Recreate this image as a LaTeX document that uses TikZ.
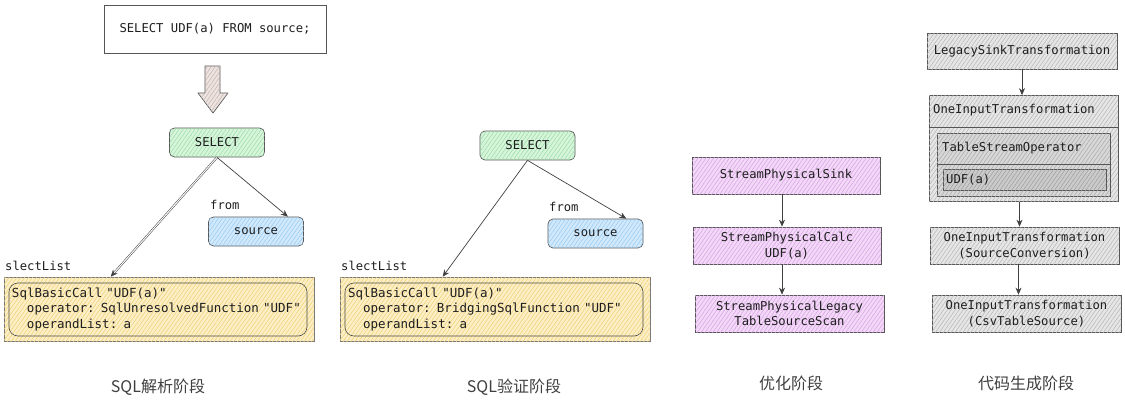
\documentclass[tikz,border=0pt]{standalone}
\usepackage{fontspec}
\setmonofont{DejaVu Sans Mono}[WordSpace={1,0,0}]
\newfontfamily\cjk{Noto Sans CJK SC}
\usetikzlibrary{patterns.meta,arrows.meta,calc}
\definecolor{ink}{HTML}{1E1E1E}
\definecolor{edge}{HTML}{555555}
\definecolor{gfill}{HTML}{D6F5DB}\definecolor{gline}{HTML}{9EDDA8}
\definecolor{bfill}{HTML}{D2E9FC}\definecolor{bline}{HTML}{98CCF3}
\definecolor{yfill}{HTML}{FCEFC6}\definecolor{yline}{HTML}{F2D27A}
\definecolor{pfill}{HTML}{F3D8F8}\definecolor{pline}{HTML}{D9A6E6}
\definecolor{afill}{HTML}{EDE4E1}\definecolor{aline}{HTML}{C6B5B0}
\definecolor{k1fill}{HTML}{E6E6E6}\definecolor{k1line}{HTML}{B8B8B8}
\definecolor{k2fill}{HTML}{D8D8D8}\definecolor{k2line}{HTML}{ABABAB}
\definecolor{k3fill}{HTML}{CBCBCB}\definecolor{k3line}{HTML}{A0A0A0}
\newcommand\myind{\hspace*{15pt}}
\tikzset{
  hatch/.style 2 args={fill=#1, postaction={pattern={Lines[angle=55,distance=3.2pt,line width=0.55pt]}, pattern color=#2}},
  mono/.style={font=\fontsize{12.2}{15.5}\selectfont\ttfamily, text=ink},
  cjklabel/.style={font=\cjk\fontsize{16}{18}\selectfont, text=ink!85},
  boxbase/.style={mono, draw=edge, line width=0.7pt, inner sep=0pt, align=center},
  greenbox/.style={boxbase, hatch={gfill}{gline}, rounded corners=5pt, minimum width=95pt, minimum height=29pt},
  bluebox/.style={boxbase, hatch={bfill}{bline}, rounded corners=5pt, minimum width=95pt, minimum height=29pt},
  yellowbox/.style={draw=edge!80, line width=0.6pt, hatch={yfill}{yline}, minimum width=310pt, minimum height=64pt, inner sep=0pt},
  innerbox/.style={font=\fontsize{12.5}{15.5}\selectfont\ttfamily, text=ink, draw=ink!80, line width=0.6pt, rounded corners=9pt, minimum width=298pt, minimum height=53pt, text width=292pt, inner xsep=3pt, inner ysep=0pt, align=left},
  purplebox/.style={boxbase, hatch={pfill}{pline}, minimum width=188pt, minimum height=37pt},
  graybox/.style={boxbase, hatch={k1fill}{k1line}, minimum width=189pt, minimum height=37pt},
  arr/.style={draw=ink!85, line width=0.7pt, -{Stealth[length=7pt,width=6pt]}},
  plain/.style={mono, inner sep=0pt},
}
\begin{document}
\begin{tikzpicture}[x=1pt,y=-1pt]
\useasboundingbox (0,0) rectangle (1125,402);

% ---------- panel 1 ----------
\node[boxbase, fill=white, minimum width=222pt, minimum height=48pt] (q) at (215,29) {SELECT UDF(a) FROM source;};
\draw[draw=edge, line width=0.7pt, hatch={afill}{aline}, line join=round]
  (205,66) -- (220,66) -- (220,93) -- (228,93) -- (213,113) -- (198,93) -- (205,93) -- cycle;
\node[greenbox] (s1) at (217,142.5) {SELECT};
\node[bluebox] (src1) at (256,231.5) {source};
\node[plain, anchor=west] (f1) at (210,205) {from};
\node[plain, anchor=west] (l1) at (5,266) {slectList};
\node[yellowbox] (y1) at (159,309) {};
\node[innerbox] (i1) at (158,309.5) {SqlBasicCall "UDF(a)"\\\myind operator: SqlUnresolvedFunction "UDF"\\\myind operandList: a};
\draw[arr, double=white, double distance=1pt, line width=0.5pt] (s1.south) -- ($(y1.north west)+(107,0)$);
\draw[arr] (s1.south) -- ($(src1.north east)+(-16,0)$);
\node[cjklabel] (t1) at (158,387) {SQL解析阶段};

% ---------- panel 2 ----------
\node[greenbox] (s2) at (527.5,145.5) {SELECT};
\node[bluebox] (src2) at (595.5,233.5) {source};
\node[plain, anchor=west] (f2) at (549,207) {from};
\node[plain, anchor=west] (l2) at (341,266) {slectList};
\node[yellowbox] (y2) at (495,309) {};
\node[innerbox] (i2) at (494,309.5) {SqlBasicCall "UDF(a)"\\\myind operator: BridgingSqlFunction "UDF"\\\myind operandList: a};
\draw[arr] (s2.south) -- ($(y2.north west)+(103,0)$);
\draw[arr] (s2.south) -- ($(src2.north east)+(-17,0)$);
\node[cjklabel] (t2) at (514,387) {SQL验证阶段};

% ---------- panel 3 ----------
\node[purplebox] (p1) at (786,175.5) {StreamPhysicalSink};
\node[purplebox] (p2) at (787,245.5) {StreamPhysicalCalc\\UDF(a)};
\node[purplebox, minimum width=189pt] (p3) at (789.5,313.5) {StreamPhysicalLegacy\\TableSourceScan};
\draw[arr] ($(p1.south)+(-4,0)$) -- ($(p1.south |- p2.north)+(-4,0)$);
\draw[arr] ($(p2.south)+(-5,0)$) -- ($(p2.south |- p3.north)+(-5,0)$);
\node[cjklabel] (t3) at (791,383) {优化阶段};

% ---------- panel 4 ----------
\node[graybox, minimum width=190pt, minimum height=36pt] (g1) at (1022,51) {LegacySinkTransformation};
\node[graybox, minimum height=106pt] (g2) at (1023.5,148.5) {};
\draw[draw=edge, line width=0.6pt] (g2.west |- 0,127) -- (g2.east |- 0,127);
\node[plain, anchor=west] (g2t) at (933,110) {OneInputTransformation};
\node[boxbase, hatch={k2fill}{k2line}, minimum width=173pt, minimum height=63pt] (g3) at (1023.5,164.5) {};
\draw[draw=edge, line width=0.6pt] (g3.west |- 0,164) -- (g3.east |- 0,164);
\node[plain, anchor=west] (g3t) at (942,148) {TableStreamOperator};
\node[boxbase, hatch={k3fill}{k3line}, minimum width=163pt, minimum height=21pt] (g4) at (1024.5,179.5) {};
\node[plain, anchor=west] (g4t) at (946,180) {UDF(a)};
\node[graybox] (g5) at (1024.5,245.5) {OneInputTransformation\\(SourceConversion)};
\node[graybox] (g6) at (1026.5,313.5) {OneInputTransformation\\(CsvTableSource)};
\draw[arr] (g1.south) -- (g1.south |- g2.north);
\draw[arr] ($(g2.south)+(-4,0)$) -- ($(g2.south |- g5.north)+(-4,0)$);
\draw[arr] ($(g5.south)+(-6,0)$) -- ($(g5.south |- g6.north)+(-6,0)$);
\node[cjklabel] (t4) at (1026,383) {代码生成阶段};
\end{tikzpicture}
\end{document}
